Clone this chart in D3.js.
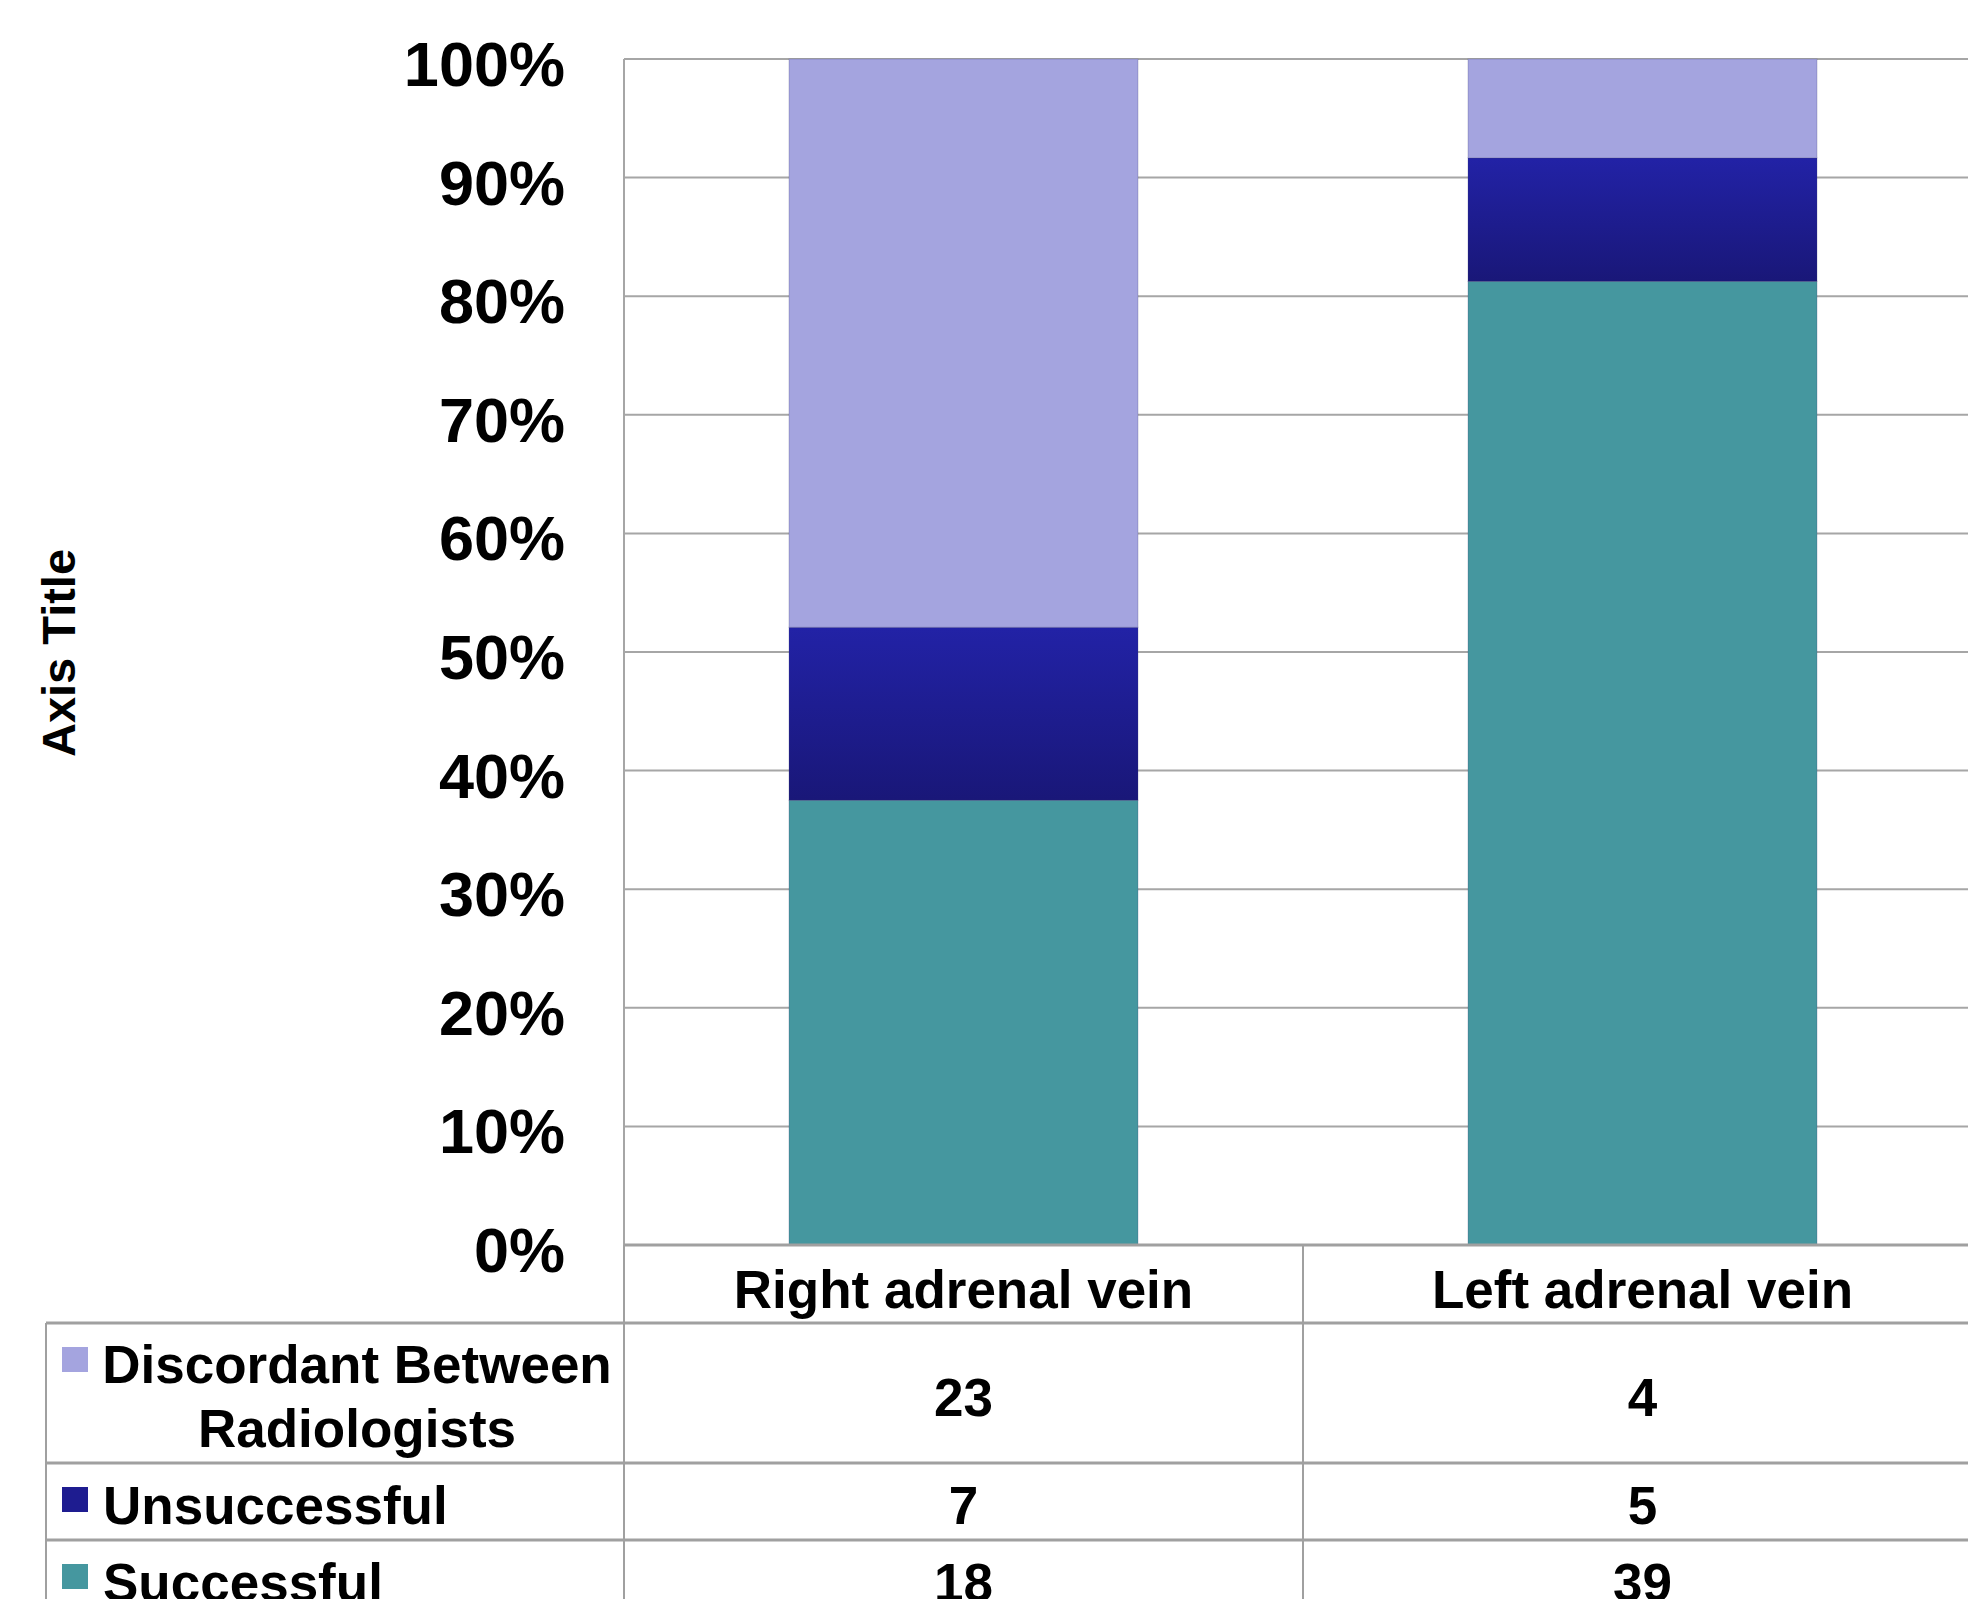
<!DOCTYPE html>
<html>
<head>
<meta charset="utf-8">
<script src="https://cdn.jsdelivr.net/npm/d3@7/dist/d3.min.js"></script>
<style>
  html, body { margin: 0; padding: 0; background: #fff; }
  svg { display: block; }
  text { font-family: "Liberation Sans", Arial, Helvetica, sans-serif; font-weight: bold; fill: #000; }
</style>
</head>
<body>
<script>
// ---- data ----
const categories = ["Right adrenal vein", "Left adrenal vein"];
const seriesNames = ["Successful", "Unsuccessful", "Discordant Between Radiologists"];
const successful = [18, 39];
const unsuccessful = [7, 5];
const discordant = [23, 4];
const yTicks = [0, 0.1, 0.2, 0.3, 0.4, 0.5, 0.6, 0.7, 0.8, 0.9, 1.0];
const tableOrder = ["Discordant Between Radiologists", "Unsuccessful", "Successful"];
const tableLabelLines = [["Discordant Between", "Radiologists"], ["Unsuccessful"], ["Successful"]];

const W = 1968, H = 1599;
const svg = d3.select("body").append("svg").attr("width", W).attr("height", H);

const defs = svg.append("defs");
const grad = defs.append("linearGradient").attr("id", "gradUns")
  .attr("x1", 0).attr("y1", 0).attr("x2", 0).attr("y2", 1);
grad.append("stop").attr("offset", "0%").attr("stop-color", "#2222A6");
grad.append("stop").attr("offset", "100%").attr("stop-color", "#191778");

const colors = {
  "Successful": "#45979F",
  "Unsuccessful": "url(#gradUns)",
  "Discordant Between Radiologists": "#A4A4DF"
};
const swatchColors = {
  "Successful": "#45979F",
  "Unsuccessful": "#1E1C90",
  "Discordant Between Radiologists": "#A4A4DF"
};

const rows = categories.map((c, i) => ({
  cat: c,
  "Successful": successful[i],
  "Unsuccessful": unsuccessful[i],
  "Discordant Between Radiologists": discordant[i]
}));

const plotLeft = 624, plotRight = 1982, plotTop = 59, plotBottom = 1245;

const x = d3.scaleBand().domain(categories).range([plotLeft, plotRight])
  .paddingInner(0.486).paddingOuter(0.243);
const xCol = d3.scaleBand().domain(categories).range([plotLeft, plotRight]);
const y = d3.scaleLinear().domain([0, 1]).range([plotBottom, plotTop]);

const gridColor = "#A6A6A6";

// gridlines
svg.append("g").selectAll("line").data(yTicks.filter(d => d > 0)).join("line")
  .attr("x1", plotLeft).attr("x2", W)
  .attr("y1", d => y(d)).attr("y2", d => y(d))
  .attr("stroke", gridColor).attr("stroke-width", 2);

// left axis line
svg.append("line").attr("x1", plotLeft).attr("x2", plotLeft)
  .attr("y1", plotTop).attr("y2", plotBottom)
  .attr("stroke", gridColor).attr("stroke-width", 2);

// stacked bars
const stack = d3.stack().keys(seriesNames).offset(d3.stackOffsetExpand);
const stacked = stack(rows);

svg.append("g").selectAll("g").data(stacked).join("g")
  .attr("fill", d => colors[d.key])
  .selectAll("rect").data(d => d).join("rect")
  .attr("x", d => x(d.data.cat))
  .attr("width", x.bandwidth())
  .attr("y", d => y(d[1]))
  .attr("height", d => y(d[0]) - y(d[1]))
  .attr("stroke", "rgba(60,60,110,0.25)").attr("stroke-width", 1);

// y axis tick labels
const yAxis = d3.axisLeft(y).tickValues(yTicks).tickFormat(d3.format(".0%")).tickSize(0).tickPadding(0);
const yg = svg.append("g").attr("transform", `translate(565,0)`).call(yAxis);
yg.select(".domain").remove();
yg.selectAll("text")
  .attr("font-size", 63).attr("font-family", "Liberation Sans, Arial, sans-serif")
  .attr("font-weight", "bold").attr("fill", "#000").attr("dy", "0.42em");

// axis title
svg.append("text").attr("transform", "translate(75,653) rotate(-90)")
  .attr("text-anchor", "middle").attr("font-size", 47).text("Axis Title");

// ---- data table ----
const tableLeft = 46;
const rowBounds = [1323, 1463, 1540, 1617];
const lineColor = "#A0A0A0";
const tg = svg.append("g");

rowBounds.forEach(yy => {
  tg.append("line").attr("x1", tableLeft).attr("x2", W).attr("y1", yy).attr("y2", yy)
    .attr("stroke", lineColor).attr("stroke-width", 3);
});
tg.append("line").attr("x1", plotLeft).attr("x2", W).attr("y1", plotBottom).attr("y2", plotBottom)
  .attr("stroke", lineColor).attr("stroke-width", 3);
tg.append("line").attr("x1", tableLeft).attr("x2", tableLeft).attr("y1", rowBounds[0]).attr("y2", H)
  .attr("stroke", lineColor).attr("stroke-width", 2);
tg.append("line").attr("x1", plotLeft).attr("x2", plotLeft).attr("y1", plotBottom).attr("y2", H)
  .attr("stroke", lineColor).attr("stroke-width", 2);
categories.forEach((c, i) => {
  if (i > 0) {
    tg.append("line").attr("x1", xCol(c)).attr("x2", xCol(c)).attr("y1", plotBottom).attr("y2", H)
      .attr("stroke", lineColor).attr("stroke-width", 2);
  }
});

tg.selectAll(".cat").data(categories).join("text")
  .attr("x", d => x(d) + x.bandwidth() / 2).attr("y", 1289)
  .attr("text-anchor", "middle").attr("dominant-baseline", "central")
  .attr("font-size", 53).text(d => d);

tableOrder.forEach((key, r) => {
  const top = rowBounds[r], bot = rowBounds[r + 1];
  const mid = (top + bot) / 2;
  tg.append("rect").attr("x", 62).attr("y", top + 24).attr("width", 26).attr("height", 25)
    .attr("fill", swatchColors[key]);
  const lines = tableLabelLines[r];
  if (lines.length > 1) {
    lines.forEach((ln, k) => {
      tg.append("text").attr("x", 357).attr("y", top + 41 + k * 64)
        .attr("text-anchor", "middle").attr("dominant-baseline", "central")
        .attr("font-size", 53).text(ln);
    });
  } else {
    tg.append("text").attr("x", 103).attr("y", mid + 4)
      .attr("text-anchor", "start").attr("dominant-baseline", "central")
      .attr("font-size", 53).text(lines[0]);
  }
  rows.forEach(rw => {
    tg.append("text").attr("x", x(rw.cat) + x.bandwidth() / 2).attr("y", mid + 4)
      .attr("text-anchor", "middle").attr("dominant-baseline", "central")
      .attr("font-size", 53).text(rw[key]);
  });
});
</script>
</body>
</html>
